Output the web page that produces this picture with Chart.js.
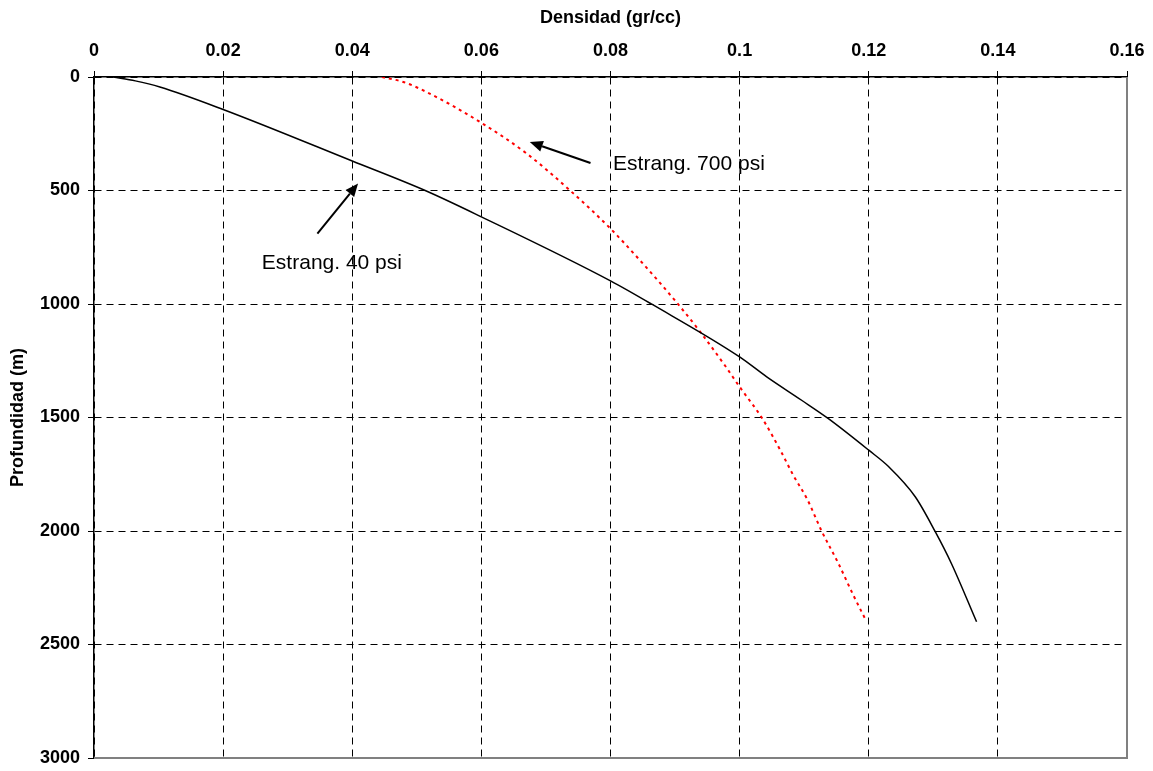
<!DOCTYPE html>
<html>
<head>
<meta charset="utf-8">
<script src="https://cdn.jsdelivr.net/npm/chart.js@4/dist/chart.umd.min.js"></script>
<style>
  html, body { margin: 0; padding: 0; background: #fff; }
  #wrap { width: 1153px; height: 771px; position: relative; }
</style>
</head>
<body>
<div id="wrap"><canvas id="c"></canvas></div>
<script>
// ---- data (density gr/cc, depth m) ----
const xTickLabels = ['0', '0.02', '0.04', '0.06', '0.08', '0.1', '0.12', '0.14', '0.16'];
const yTickLabels = ['0', '500', '1000', '1500', '2000', '2500', '3000'];

const density40 = [0.003, 0.0064, 0.0102, 0.02, 0.04, 0.0513, 0.06, 0.08, 0.0864, 0.1, 0.1042, 0.1096, 0.1137, 0.12, 0.1231, 0.1272, 0.1303, 0.1328, 0.1367];
const depth40   = [0,     17,     44,     143,  370,  500,    616,  898,  1001,   1233, 1321,   1424,   1504,   1644, 1717,   1849,   2003,   2143,   2400];

const density700 = [0.0446, 0.0479, 0.0515, 0.06, 0.067, 0.0737, 0.08, 0.0841, 0.09, 0.0939, 0.0977, 0.1, 0.1035, 0.1063, 0.1083, 0.1104, 0.1127, 0.1153, 0.1176, 0.1195];
const depth700   = [0,      22,     66,     202,  337,   499,    668,  793,    985,  1123,   1270,   1365, 1504,   1644,   1754,   1856,   2000,   2143,   2282,   2390];

const seriesNames = ['Estrang. 40 psi', 'Estrang. 700 psi'];

// annotations: label text, label anchor (density, depth), arrow tail, arrow tip
const annoText  = ['Estrang. 700 psi', 'Estrang. 40 psi'];
const annoLabel = [[0.0804, 411], [0.026, 848]];
const annoTail  = [[0.0769, 379], [0.0346, 690]];
const annoTip   = [[0.0675, 286], [0.0409, 469]];

const toPts = (xs, ys) => xs.map((x, i) => ({ x: x, y: ys[i] }));
const labelFor = (list, v) => {
  const hit = list.find(l => Math.abs(parseFloat(l) - v) < 1e-9);
  return hit === undefined ? '' : hit;
};

const annoPlugin = {
  id: 'anno',
  afterDatasetsDraw(chart) {
    const { ctx, chartArea: a, scales: { x, y } } = chart;
    ctx.save();
    // gray frame on right and bottom
    ctx.strokeStyle = '#808080';
    ctx.lineWidth = 2;
    ctx.beginPath();
    ctx.moveTo(a.right, a.top);
    ctx.lineTo(a.right, a.bottom);
    ctx.lineTo(a.left, a.bottom);
    ctx.stroke();

    ctx.fillStyle = '#000';
    ctx.strokeStyle = '#000';
    ctx.font = '21px "Liberation Sans", Arial, sans-serif';
    ctx.textBaseline = 'alphabetic';
    ctx.textAlign = 'left';
    for (let i = 0; i < annoText.length; i++) {
      ctx.fillText(annoText[i], x.getPixelForValue(annoLabel[i][0]), y.getPixelForValue(annoLabel[i][1]));
      const x1 = x.getPixelForValue(annoTail[i][0]), y1 = y.getPixelForValue(annoTail[i][1]);
      const x2 = x.getPixelForValue(annoTip[i][0]),  y2 = y.getPixelForValue(annoTip[i][1]);
      const ang = Math.atan2(y2 - y1, x2 - x1);
      const hl = 13, hw = 5.5;
      const bx = x2 - hl * Math.cos(ang), by = y2 - hl * Math.sin(ang);
      ctx.lineWidth = 2;
      ctx.beginPath();
      ctx.moveTo(x1, y1);
      ctx.lineTo(bx, by);
      ctx.stroke();
      ctx.beginPath();
      ctx.moveTo(x2, y2);
      ctx.lineTo(bx + hw * Math.sin(ang), by - hw * Math.cos(ang));
      ctx.lineTo(bx - hw * Math.sin(ang), by + hw * Math.cos(ang));
      ctx.closePath();
      ctx.fill();
    }
    ctx.restore();
  }
};

new Chart(document.getElementById('c'), {
  type: 'scatter',
  data: {
    datasets: [
      {
        label: seriesNames[0],
        data: toPts(density40, depth40),
        showLine: true,
        borderColor: '#000000',
        borderWidth: 1.5,
        pointRadius: 0,
        tension: 0.3,
        cubicInterpolationMode: 'monotone'
      },
      {
        label: seriesNames[1],
        data: toPts(density700, depth700),
        showLine: true,
        borderColor: '#ff0000',
        borderWidth: 2,
        borderDash: [3, 4],
        pointRadius: 0,
        tension: 0.3,
        cubicInterpolationMode: 'monotone'
      }
    ]
  },
  options: {
    responsive: true,
    maintainAspectRatio: false,
    animation: false,
    layout: { padding: { left: 0, top: 0, right: 26, bottom: 13 } },
    plugins: { legend: { display: false }, tooltip: { enabled: false } },
    scales: {
      x: {
        type: 'linear',
        position: 'top',
        min: 0, max: 0.16,
        afterFit(s) { s.height = 77; s.paddingRight = 0; s.paddingLeft = 0; },
        ticks: {
          stepSize: 0.02,
          color: '#000',
          padding: 9,
          font: { family: '"Liberation Sans", Arial, sans-serif', size: 18, weight: 'bold' },
          callback: (v) => labelFor(xTickLabels, v)
        },
        grid: { color: '#000', lineWidth: 1, tickLength: 6, tickColor: '#000', tickBorderDash: [] },
        border: { display: true, color: '#000', width: 1.5, dash: [7, 5] },
        title: {
          display: true,
          text: 'Densidad (gr/cc)',
          color: '#000',
          padding: { top: 7, bottom: 0 },
          font: { family: '"Liberation Sans", Arial, sans-serif', size: 18, weight: 'bold' }
        }
      },
      y: {
        type: 'linear',
        reverse: true,
        min: 0, max: 3000,
        afterFit(s) { s.width = 94; s.paddingTop = 0; s.paddingBottom = 0; },
        ticks: {
          stepSize: 500,
          color: '#000',
          padding: 8,
          font: { family: '"Liberation Sans", Arial, sans-serif', size: 18, weight: 'bold' },
          callback: (v) => labelFor(yTickLabels, v)
        },
        grid: { color: '#000', lineWidth: 1, tickLength: 6, tickColor: '#000', tickBorderDash: [] },
        border: { display: true, color: '#000', width: 1.5, dash: [7, 5] },
        title: {
          display: true,
          text: 'Profundidad (m)',
          color: '#000',
          padding: { top: 7, bottom: 0 },
          font: { family: '"Liberation Sans", Arial, sans-serif', size: 18, weight: 'bold' }
        }
      }
    }
  },
  plugins: [annoPlugin]
});
</script>
</body>
</html>
